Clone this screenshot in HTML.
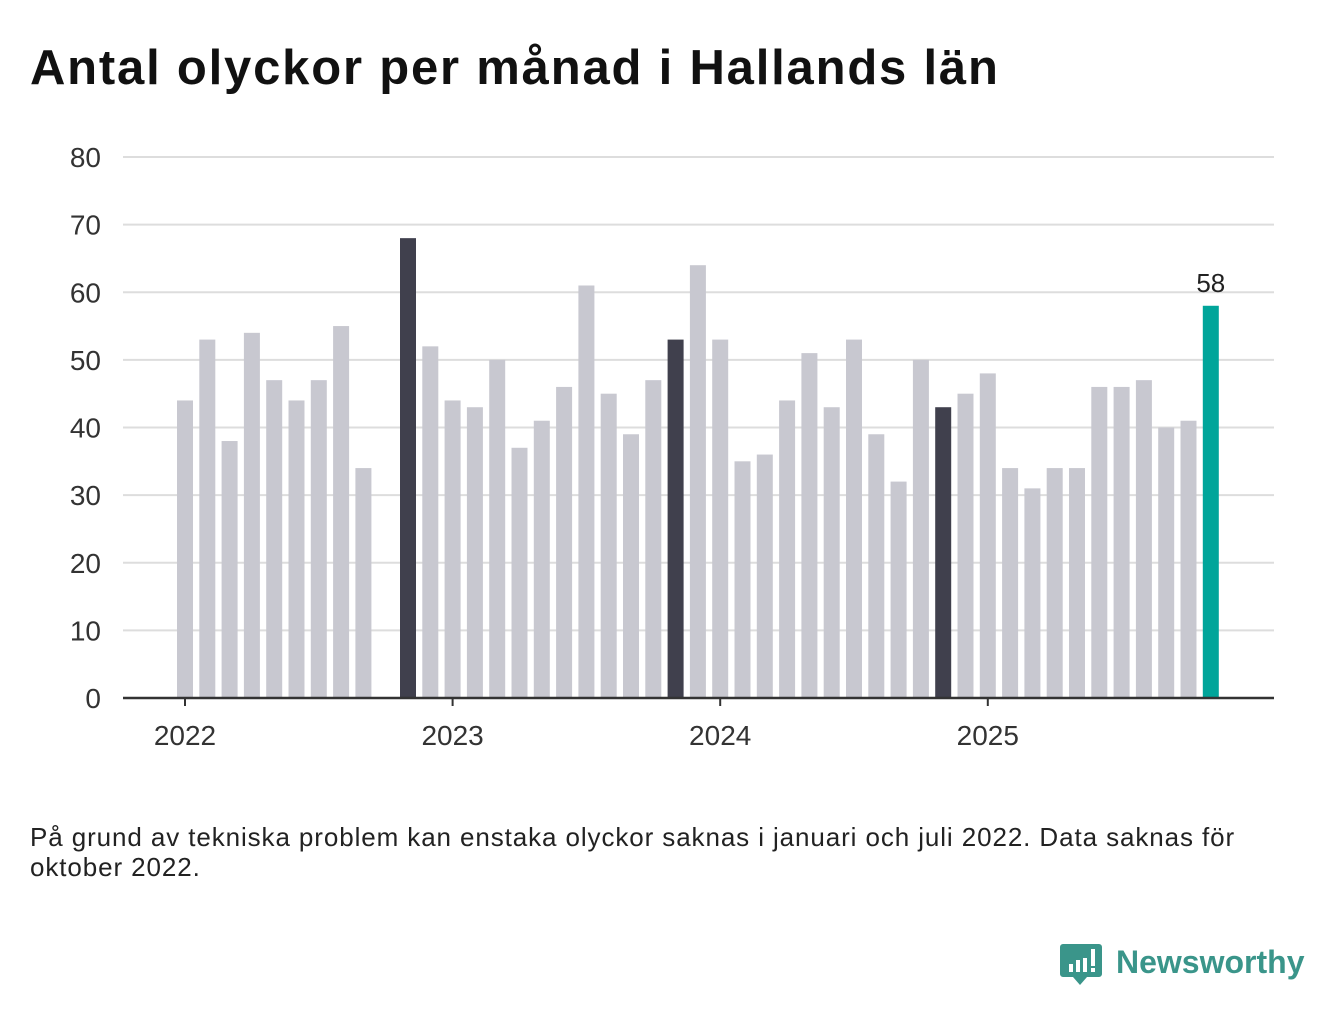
<!DOCTYPE html>
<html><head><meta charset="utf-8"><style>
body{margin:0;width:1340px;height:1020px;background:#fff;font-family:"Liberation Sans",sans-serif;overflow:hidden}
#title{position:absolute;left:30px;top:40px;font-size:49px;font-weight:bold;color:#111;margin:0;letter-spacing:1.8px}
#note{position:absolute;left:30px;top:822px;font-size:26px;color:#222;line-height:30px;width:1215px;letter-spacing:0.9px}
</style></head><body>
<h1 id="title">Antal olyckor per månad i Hallands län</h1>
<svg id="chart" width="1340" height="800" style="position:absolute;left:0;top:0"></svg>
<div id="note">På grund av tekniska problem kan enstaka olyckor saknas i januari och juli 2022. Data saknas för oktober 2022.</div>
<svg width="260" height="60" style="position:absolute;left:1060px;top:940px">
<path d="M3 4 h36 a3 3 0 0 1 3 3 v27 a3 3 0 0 1 -3 3 h-12 l-7 8 l-7 -8 h-10 a3 3 0 0 1 -3 -3 v-27 a3 3 0 0 1 3 -3z" fill="#3a958a"/>
<rect x="9" y="24" width="4" height="8" fill="#fff"/><rect x="16" y="20" width="4" height="12" fill="#fff"/><rect x="23" y="18" width="4" height="14" fill="#fff"/><rect x="31" y="9" width="4" height="17" fill="#fff"/><rect x="31" y="28" width="4" height="4" fill="#fff"/>
<text x="56" y="33" font-family="Liberation Sans, sans-serif" font-size="32" font-weight="bold" fill="#3a958a">Newsworthy</text>
</svg>
<script>
const values=[44,53,38,54,47,44,47,55,34,null,68,52,
44,43,50,37,41,46,61,45,39,47,53,64,
53,35,36,44,51,43,53,39,32,50,43,45,
48,34,31,34,34,46,46,47,40,41,58];
const yTicks=[0,10,20,30,40,50,60,70,80];
const yearLabels=["2022","2023","2024","2025"];
const NS="http://www.w3.org/2000/svg";
const svg=document.getElementById('chart');
const x0=123,x1=1274,y0=698,yTop=157;
const y=v=>y0-(v/80)*(y0-yTop);
const step=22.3,first=185;
const x=i=>first+i*step;
function mk(t,a){const e=document.createElementNS(NS,t);for(const k in a)e.setAttribute(k,a[k]);svg.appendChild(e);return e;}
yTicks.forEach(t=>{
 if(t>0){const l=mk('line',{x1:x0,x2:x1,y1:y(t),y2:y(t),stroke:'#ddd','stroke-width':2});
 
 }
 const tx=mk('text',{x:101,y:y(t)+10,'text-anchor':'end','font-size':28,fill:'#333'});
 tx.textContent=t;
 
 
});
values.forEach((v,i)=>{
 if(v==null)return;
 const m=i%12;
 const last=i===values.length-1;
 const col=last?'#00a59a':(m===10?'#40404d':'#c8c8d0');
 const r=mk('rect',{x:x(i)-8,y:y(v),width:16,height:y0-y(v),fill:col});
 
 
 if(last){const t=mk('text',{x:x(i),y:y(v)-14,'text-anchor':'middle','font-size':26,fill:'#222'});t.textContent=v;
 
 }
});
const ax=mk('line',{x1:x0,x2:x1,y1:y0,y2:y0,stroke:'#333','stroke-width':2.5});


yearLabels.forEach((lab,k)=>{
 const xx=x(k*12);
 const tk=mk('line',{x1:xx,x2:xx,y1:y0,y2:y0+8,stroke:'#333','stroke-width':2});
 
 
 const t=mk('text',{x:xx,y:745,'text-anchor':'middle','font-size':28,fill:'#333'});t.textContent=lab;
 
 
});
</script>
</body></html>
